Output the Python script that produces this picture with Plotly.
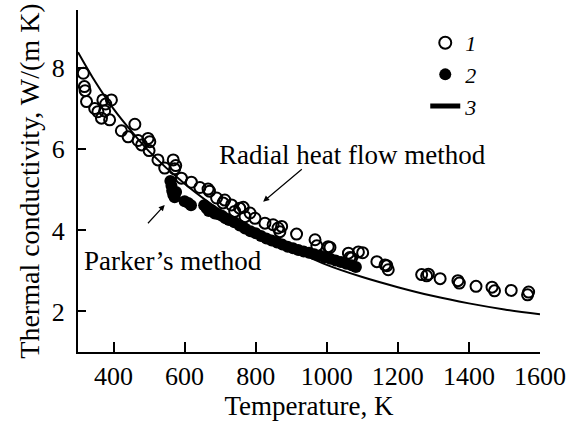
import plotly.graph_objects as go

# Series 1: radial heat flow method (open circles)
t1 = [315, 318, 320, 324, 347, 356, 366, 370, 375, 378, 389, 394, 422, 441, 460, 469, 479,
      497, 500, 502, 525, 544, 568, 572, 575, 591, 619, 643, 666, 670, 690, 708, 713, 732,
      741, 755, 765, 770, 784, 798, 826, 849, 863, 873, 868, 915, 967, 972, 1004, 1009,
      1061, 1065, 1070, 1089, 1101, 1141, 1164, 1169, 1173, 1267, 1281, 1286, 1319, 1369,
      1373, 1420, 1465, 1472, 1519, 1565, 1568]
k1 = [7.88, 7.55, 7.45, 7.18, 7.01, 6.93, 6.77, 7.22, 6.95, 7.12, 6.73, 7.22, 6.46, 6.31,
      6.62, 6.22, 6.11, 6.27, 5.97, 6.19, 5.74, 5.54, 5.74, 5.52, 5.60, 5.29, 5.19, 5.06,
      5.02, 4.97, 4.80, 4.68, 4.75, 4.63, 4.47, 4.55, 4.57, 4.34, 4.43, 4.30, 4.18, 4.14,
      4.06, 4.10, 3.97, 3.91, 3.77, 3.62, 3.60, 3.58, 3.44, 3.33, 3.32, 3.47, 3.45, 3.23,
      3.15, 3.13, 3.03, 2.91, 2.88, 2.92, 2.81, 2.76, 2.70, 2.62, 2.60, 2.51, 2.52, 2.41,
      2.48]

# Series 2: Parker's method (filled circles)
t2 = [560, 563, 565, 568, 572, 576, 600, 610, 618, 655, 662, 668, 676, 685, 695, 705, 715,
      725, 740, 755, 770, 785, 800, 815, 830, 845, 860, 875, 890, 905, 920, 935, 950, 965,
      980, 995, 1010, 1025, 1040, 1055, 1070, 1082]
k2 = [5.22, 5.10, 4.98, 4.88, 4.82, 4.95, 4.72, 4.68, 4.62, 4.62, 4.55, 4.48, 4.50, 4.42,
      4.40, 4.36, 4.30, 4.26, 4.20, 4.12, 4.05, 3.98, 3.93, 3.86, 3.80, 3.75, 3.70, 3.65,
      3.60, 3.56, 3.52, 3.48, 3.45, 3.41, 3.38, 3.34, 3.30, 3.26, 3.22, 3.18, 3.14, 3.10]

# Series 3: calculated curve
t3 = [300, 350, 400, 450, 500, 600, 700, 800, 900, 1000, 1100, 1200, 1300, 1400, 1500, 1600]
k3 = [8.40, 7.65, 7.00, 6.45, 5.95, 5.15, 4.50, 4.00, 3.55, 3.15, 2.85, 2.60, 2.38, 2.20,
      2.05, 1.93]

x_ticks = [400, 600, 800, 1000, 1200, 1400, 1600]
y_ticks = [2, 4, 6, 8]

FONT = "Liberation Serif, Times New Roman, serif"

fig = go.Figure()
fig.add_trace(go.Scatter(
    x=t1, y=k1, mode="markers", name="<i>1</i>",
    marker=dict(symbol="circle-open", size=11, color="black", line=dict(width=2, color="black")),
))
fig.add_trace(go.Scatter(
    x=t2, y=k2, mode="markers", name="<i>2</i>",
    marker=dict(symbol="circle", size=12, color="black"),
))
fig.add_trace(go.Scatter(
    x=t3, y=k3, mode="lines", name="<i>3</i>",
    line=dict(color="black", width=2, shape="spline"),
))

fig.add_annotation(x=690, y=5.86, xref="x", yref="y", text="Radial heat flow method",
                   showarrow=False, xanchor="left", yanchor="middle",
                   font=dict(family=FONT, size=27, color="black"))
fig.add_annotation(x=310, y=3.25, xref="x", yref="y", text="Parker\u2019s method",
                   showarrow=False, xanchor="left", yanchor="middle",
                   font=dict(family=FONT, size=27, color="black"))
fig.add_annotation(x=821, y=4.71, ax=934, ay=5.54, xref="x", yref="y", axref="x", ayref="y",
                   text="", showarrow=True, arrowhead=2, arrowsize=1, arrowwidth=1.2,
                   arrowcolor="black")
fig.add_annotation(x=544, y=4.63, ax=493, ay=4.14, xref="x", yref="y", axref="x", ayref="y",
                   text="", showarrow=True, arrowhead=2, arrowsize=1, arrowwidth=1.2,
                   arrowcolor="black")

fig.update_layout(
    width=567, height=422,
    margin=dict(l=78, r=27, t=10, b=70, autoexpand=False),
    paper_bgcolor="white", plot_bgcolor="white",
    font=dict(family=FONT, size=26, color="black"),
    showlegend=True,
    legend=dict(x=0.875, y=0.965, xanchor="right", yanchor="top",
                bgcolor="rgba(0,0,0,0)", tracegroupgap=0, itemsizing="constant",
                font=dict(family=FONT, size=22, color="black")),
    xaxis=dict(range=[300, 1600], tickvals=x_ticks, ticks="inside", ticklen=10, tickwidth=2,
               tickcolor="black", showline=True, linewidth=2, linecolor="black",
               showgrid=False, zeroline=False, mirror=False, automargin=False,
               title=dict(text="Temperature, K", font=dict(size=27), standoff=0),
               tickfont=dict(size=26)),
    yaxis=dict(range=[1.0, 9.44], tickvals=y_ticks, ticks="inside", ticklen=8, tickwidth=2,
               tickcolor="black", showline=True, linewidth=2, linecolor="black",
               showgrid=False, zeroline=False, mirror=False, automargin=False,
               title=dict(text="Thermal conductivity, W/(m K)", font=dict(size=28), standoff=4),
               tickfont=dict(size=26), ticklabelstandoff=6),
)

fig.write_html("out.html")
